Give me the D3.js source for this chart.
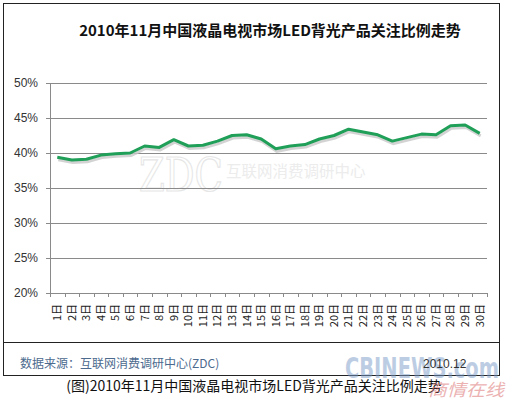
<!DOCTYPE html>
<html>
<head>
<meta charset="utf-8">
<script src="https://cdn.jsdelivr.net/npm/d3@7"></script>
<style>
  body { margin: 0; background: #fff; }
  svg text { font-family: "Liberation Sans", Arial, sans-serif; }
  .cjk { font-family: "Noto Sans CJK SC", sans-serif; }
</style>
</head>
<body>
<div id="chart"></div>
<script>
var width = 508, height = 400;

// data
var days = d3.range(1, 31).map(function(d) { return d + "日"; });
var share = [39.4, 39.0, 39.1, 39.7, 39.9, 40.0, 41.0, 40.8, 41.9, 41.0,
             41.1, 41.7, 42.5, 42.6, 42.0, 40.6, 41.0, 41.2, 42.0, 42.5,
             43.4, 43.0, 42.6, 41.7, 42.2, 42.7, 42.6, 43.9, 44.0, 42.8];
var yTicks = [20, 25, 30, 35, 40, 45, 50];

var title = "2010年11月中国液晶电视市场LED背光产品关注比例走势";
var source = "数据来源：互联网消费调研中心(ZDC)";
var caption = "(图)2010年11月中国液晶电视市场LED背光产品关注比例走势";

var svg = d3.select("#chart").append("svg")
  .attr("width", width)
  .attr("height", height);

// squeeze a text horizontally so it spans w pixels from (x0, y0)
function fitWidth(t, x0, y0, w) {
  var sx = w / t.node().getComputedTextLength();
  t.attr("transform", "translate(" + x0 + "," + y0 + ") scale(" + sx + ",1)");
}

// frame
svg.append("rect")
  .attr("x", 3.5).attr("y", 3.5)
  .attr("width", 496).attr("height", 372)
  .attr("fill", "#fff")
  .attr("stroke", "#222");

svg.append("line")
  .attr("x1", 4).attr("x2", 499)
  .attr("y1", 342.5).attr("y2", 342.5)
  .attr("stroke", "#222");

var x = d3.scaleBand().domain(days).range([50, 487]);
var y = d3.scaleLinear().domain([20, 50]).range([293, 83]);

// watermark
var zdc = svg.append("text")
  .style("font-family", "'DejaVu Serif', serif")
  .style("font-size", "46px")
  .attr("fill", "none")
  .attr("stroke", "#e6e6e6")
  .attr("stroke-width", 1.2)
  .text("ZDC");
fitWidth(zdc, 139, 191, 84);

svg.append("text")
  .attr("class", "cjk")
  .attr("x", 226).attr("y", 177)
  .style("font-size", "15.5px")
  .attr("fill", "#ececec")
  .text("互联网消费调研中心");

// gridlines
svg.append("g").selectAll("line")
  .data(yTicks)
  .enter().append("line")
    .attr("x1", 46).attr("x2", 487)
    .attr("y1", function(d) { return Math.round(y(d)) + 0.5; })
    .attr("y2", function(d) { return Math.round(y(d)) + 0.5; })
    .attr("stroke", "#8a8a8a");

// y labels
svg.append("g").selectAll("text")
  .data(yTicks)
  .enter().append("text")
    .attr("x", 38)
    .attr("y", function(d) { return y(d); })
    .attr("dy", "0.35em")
    .attr("text-anchor", "end")
    .style("font-size", "12px")
    .attr("fill", "#333")
    .text(function(d) { return d + "%"; });

// axes lines
svg.append("line")
  .attr("x1", 50.5).attr("x2", 50.5)
  .attr("y1", y(50)).attr("y2", y(20))
  .attr("stroke", "#8a8a8a");

var edges = days.map(function(d) { return x(d); }).concat([x.range()[1]]);
svg.append("g").selectAll("line")
  .data(edges)
  .enter().append("line")
    .attr("x1", function(d) { return Math.round(d) + 0.5; })
    .attr("x2", function(d) { return Math.round(d) + 0.5; })
    .attr("y1", y(20)).attr("y2", y(20) + 4)
    .attr("stroke", "#8a8a8a");

// x labels
svg.append("g").selectAll("text")
  .data(days)
  .enter().append("text")
    .attr("class", "cjk")
    .attr("transform", function(d) {
      return "translate(" + (x(d) + x.bandwidth() / 2) + ",304) rotate(-90)";
    })
    .attr("dy", "0.35em")
    .attr("text-anchor", "end")
    .style("font-size", "11px")
    .attr("fill", "#222")
    .text(function(d) { return d; });

// line with soft shadow
var line = d3.line()
  .x(function(d, i) { return x(days[i]) + x.bandwidth() / 2; })
  .y(function(d) { return y(d); });

svg.append("path")
  .datum(share)
  .attr("d", line)
  .attr("transform", "translate(1,2.5)")
  .attr("fill", "none")
  .attr("stroke", "#c8c8c8")
  .attr("stroke-width", 3)
  .attr("opacity", 0.8);

svg.append("path")
  .datum(share)
  .attr("d", line)
  .attr("fill", "none")
  .attr("stroke", "#1f9f58")
  .attr("stroke-width", 3)
  .attr("stroke-linejoin", "round");

// title
svg.append("text")
  .attr("class", "cjk")
  .attr("x", 270).attr("y", 36)
  .attr("text-anchor", "middle")
  .style("font-size", "15px")
  .style("font-weight", "bold")
  .attr("fill", "#111")
  .text(title);

// footer
svg.append("text")
  .attr("class", "cjk")
  .attr("x", 20).attr("y", 368)
  .style("font-size", "12px")
  .attr("fill", "#4c6a8e")
  .text(source);

var cbi = svg.append("text")
  .style("font-family", "'DejaVu Sans', sans-serif")
  .style("font-size", "28px")
  .style("font-weight", "bold")
  .attr("fill", "#7b9cc8")
  .attr("opacity", 0.5)
  .text("CBINEWS.com");
fitWidth(cbi, 345, 378, 154);

svg.append("text")
  .attr("x", 423).attr("y", 368)
  .style("font-size", "12px")
  .attr("fill", "#333")
  .text("2010.12");

svg.append("text")
  .attr("class", "cjk")
  .attr("x", 254).attr("y", 391)
  .attr("text-anchor", "middle")
  .style("font-size", "14px")
  .attr("fill", "#111")
  .text(caption);

var sq = svg.append("text")
  .attr("class", "cjk")
  .style("font-size", "17px")
  .style("font-style", "italic")
  .attr("fill", "#e08080")
  .attr("opacity", 0.6)
  .text("商情在线");
fitWidth(sq, 428, 396, 76);
</script>
</body>
</html>
